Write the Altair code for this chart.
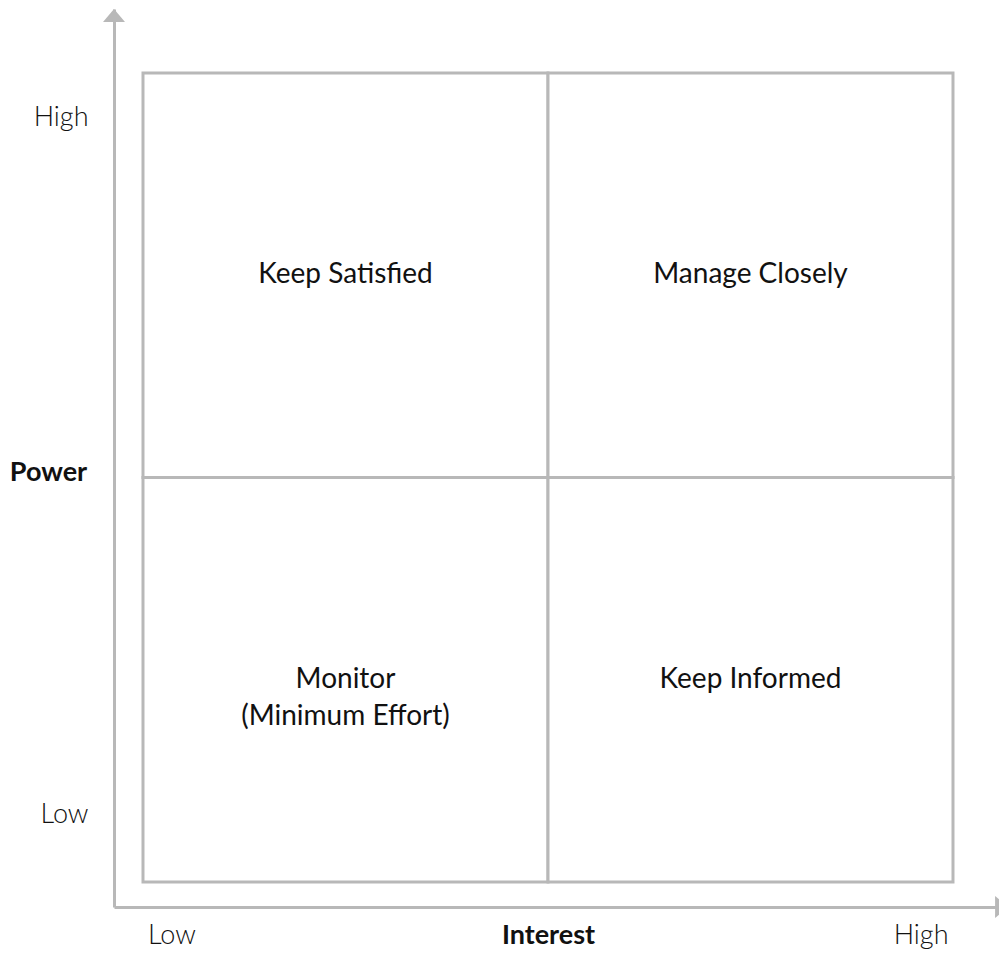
import altair as alt
import pandas as pd

# ---- data ----
interest_levels = ["Low", "High"]
power_levels = ["Low", "High"]
quadrant_names = ["Monitor\n(Minimum Effort)", "Keep Informed", "Keep Satisfied", "Manage Closely"]
quadrant_interest = ["Low", "High", "Low", "High"]
quadrant_power = ["Low", "Low", "High", "High"]
x_title = "Interest"
y_title = "Power"

# ---- style ----
FONT = "Lato, sans-serif"
GRAY = "#b8b8b8"
INK = "#111111"

X_DOMAIN = [-0.0716, 2.1136]
Y_DOMAIN = [-0.0618, 2.1582]

df = pd.DataFrame({"name": quadrant_names, "interest": quadrant_interest, "power": quadrant_power})
df["i"] = df["interest"].map(interest_levels.index)
df["p"] = df["power"].map(power_levels.index)

xs = alt.Scale(domain=X_DOMAIN, nice=False, zero=False)
ys = alt.Scale(domain=Y_DOMAIN, nice=False, zero=False)

x_axis = alt.Axis(
    values=[0.07, 1.92],
    labelExpr=f"datum.value < 1 ? '{interest_levels[0]}' : '{interest_levels[1]}'",
    title=x_title, titleX=434, titleY=15, titleBaseline="top", titleAlign="center",
    titleFontWeight="bold", labelBaseline="top", labelPadding=15, labelAlign="center",
    labelFontWeight=300,
)
y_axis = alt.Axis(
    values=[0.166, 1.889],
    labelExpr=f"datum.value < 1 ? '{power_levels[0]}' : '{power_levels[1]}'",
    title=y_title, titleAngle=0, titleX=-66, titleY=463, titleAlign="center",
    titleBaseline="middle", titleFontWeight="bold", labelAlign="right",
    labelBaseline="middle", labelPadding=26, labelFontWeight=300,
)

base = alt.Chart(df).transform_calculate(
    i2="datum.i + 1", p2="datum.p + 1", ic="datum.i + 0.5", pc="datum.p + 0.5"
)

rects = base.mark_rect(fill="white", stroke=GRAY, strokeWidth=3).encode(
    x=alt.X("i:Q", scale=xs, axis=x_axis),
    x2="i2:Q",
    y=alt.Y("p:Q", scale=ys, axis=y_axis),
    y2="p2:Q",
)

labels = base.mark_text(
    font=FONT, fontSize=28, color=INK, lineBreak="\n", lineHeight=37,
    baseline="middle", align="center",
).encode(
    x=alt.X("ic:Q"),
    y=alt.Y("pc:Q"),
    text="name:N",
)

one = pd.DataFrame({"k": [0]})
arrow_up = alt.Chart(one).mark_point(
    shape="M0,0L1,1.18L-1,1.18Z", filled=True, size=484, color=GRAY, opacity=1
).encode(x=alt.datum(X_DOMAIN[0]), y=alt.datum(Y_DOMAIN[1]))
arrow_right = alt.Chart(one).mark_point(
    shape="M0,0L-1.18,-1L-1.18,1Z", filled=True, size=484, color=GRAY, opacity=1
).encode(x=alt.datum(2.136), y=alt.datum(Y_DOMAIN[0]))

chart = alt.layer(rects, labels, arrow_up, arrow_right).properties(
    width=885, height=898,
    padding={"left": 106, "top": 1, "right": 0, "bottom": 43},
    autosize="none",
).configure_view(stroke=None).configure_axis(
    grid=False, domainColor=GRAY, domainWidth=3, ticks=False, tickSize=0,
    labelColor=INK, titleColor=INK, labelFont=FONT, titleFont=FONT,
    labelFontSize=27, titleFontSize=27,
)

chart.save("out.html", embed_options={"renderer": "svg", "actions": False})
